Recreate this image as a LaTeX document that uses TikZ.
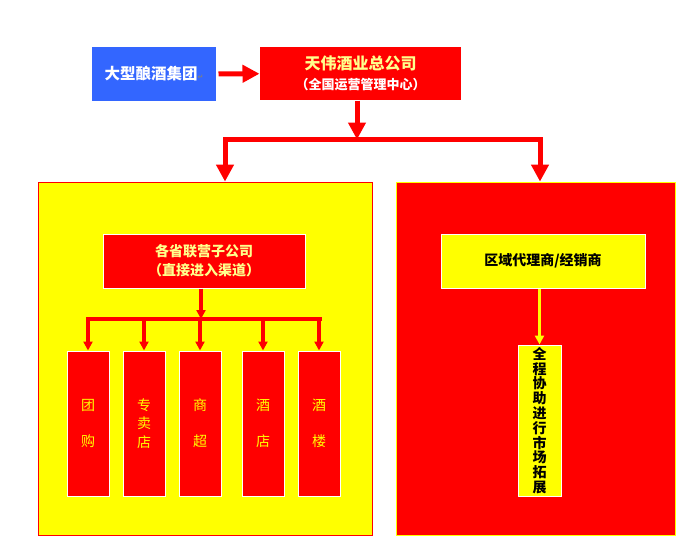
\documentclass[tikz,border=0pt]{standalone}
\usepackage{fontspec}
\newfontfamily\cjk{Noto Sans CJK SC}
\newfontfamily\symfont{DejaVu Sans}
\usetikzlibrary{arrows.meta}
\definecolor{ored}{RGB}{255,0,0}
\definecolor{oyel}{RGB}{255,255,0}
\definecolor{paleyel}{RGB}{255,255,140}
\definecolor{oblue}{RGB}{51,102,255}

\begin{document}
\begin{tikzpicture}[x=1pt, y=-1pt,
	box/.style={draw=white, line width=1pt, inner sep=0pt, align=center, font=\cjk},
	bigarrow/.style={draw=ored, line width=5pt, -{Triangle[width=17pt,length=17pt]}},
	smallarrow/.style={draw=ored, line width=3.5pt, -{Triangle[width=9pt,length=9pt]}}]
	\useasboundingbox[fill=white] (0,0) rectangle (694,552);
	% the two channel areas
	\node[fill=oyel, draw=ored, line width=0.8pt, minimum width=334pt, minimum height=353pt] (yard) at (205,358.5) {};
	\node[fill=ored, draw=oyel, line width=0.8pt, minimum width=279pt, minimum height=353pt] (rard) at (535.5,358.5) {};
	% head of the chart
	\node[box, draw=none, fill=oblue, minimum width=124pt, minimum height=54pt, text=white, font=\cjk\bfseries\fontsize{15.5}{18}\selectfont] (group) at (154,74) {大型酿酒集团{\symfont\fontsize{7}{8}\selectfont\color{gray}↵}};
	\node[box, draw=none, fill=ored, minimum width=201pt, minimum height=53pt, font=\cjk\bfseries\fontsize{16}{20.5}\selectfont] (hq) at (360.5,73.5)
		{{\color{paleyel}天伟酒业总公司}\\{\fontsize{13}{16}\selectfont\color{white}（全国运营管理中心）}};
	\draw[bigarrow, shorten <=2pt] (group) -- (hq);
	% split to both channels
	\coordinate (split) at (357,139.5);
	\coordinate (bl) at (225,139.5);
	\coordinate (br) at (540,139.5);
	\draw[bigarrow] (hq.south -| split) -- (split);
	\draw[ored, line width=5pt, line cap=rect] (bl) -- (br);
	\draw[bigarrow] (bl) -- (bl |- yard.north);
	\draw[bigarrow] (br) -- (br |- rard.north);
	% left channel
	\node[box, fill=ored, minimum width=202pt, minimum height=54pt, text=paleyel, font=\cjk\bfseries\fontsize{14}{19}\selectfont] (sub) at (204,261) {各省联营子公司\\（直接进入渠道）};
	\coordinate (fork) at (201,319);
	\draw[smallarrow] (sub.south -| fork) -- (fork);
	\draw[ored, line width=3.5pt, line cap=rect] (88,319) -- (320,319);
	\foreach \x/\name/\ls/\txt in {88/tuan/36/{团\\购}, 144/zhuan/18.5/{专\\卖\\店}, 200/shang/36/{商\\超}, 263/jiu/36/{酒\\店}, 319/lou/36/{酒\\楼}} {
		\node[box, fill=ored, minimum width=42pt, minimum height=145pt, text=oyel, font=\cjk\fontsize{14}{\ls}\selectfont] (\name) at (\x,423.5) {\txt};
		\draw[smallarrow] (\x,319) -- (\name.north);
	}
	% right channel
	\node[box, fill=oyel, minimum width=204pt, minimum height=54pt, text=black, font=\cjk\bfseries\fontsize{14}{18}\selectfont] (agent) at (543,261) {区域代理商/经销商};
	\node[box, fill=oyel, minimum width=43pt, minimum height=151pt, text=black, font=\cjk\bfseries\fontsize{14}{14.8}\selectfont] (assist) at (539.5,420.5) {全\\程\\协\\助\\进\\行\\市\\场\\拓\\展};
	\draw[oyel, line width=3pt, -{Triangle[width=9pt,length=9pt]}] (agent.south -| assist) -- (assist.north);
\end{tikzpicture}
\end{document}
